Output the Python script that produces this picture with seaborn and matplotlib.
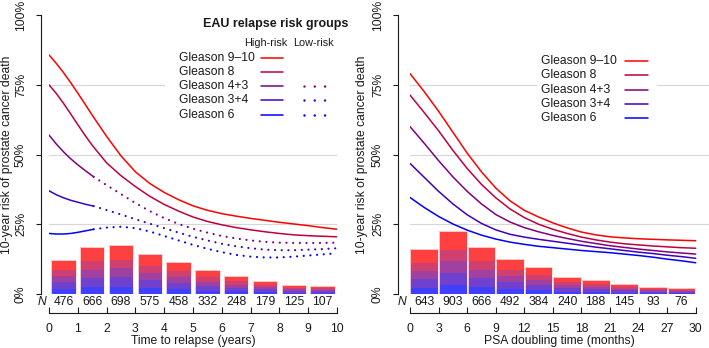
import seaborn as sns
import matplotlib.pyplot as plt
from matplotlib.lines import Line2D
from matplotlib.patches import Rectangle

# ---- data ----
groups = ["Gleason 9\u201310", "Gleason 8", "Gleason 4+3", "Gleason 3+4", "Gleason 6"]
line_colors = ["#FF0000", "#BF0040", "#800080", "#4000BF", "#0000FF"]
bar_colors = ["#FF4040", "#CF4070", "#A040A0", "#7040CF", "#4040FF"]
bar_shares = [0.30, 0.18, 0.18, 0.20, 0.14]  # top (9-10) to bottom (6)

# left panel: time to relapse (years)
relapse_bins = [0.5, 1.5, 2.5, 3.5, 4.5, 5.5, 6.5, 7.5, 8.5, 9.5]
relapse_bar_pct = [12.2, 16.7, 17.6, 14.4, 11.6, 8.6, 6.5, 4.8, 3.3, 2.9]
relapse_n = ["476", "666", "698", "575", "458", "332", "248", "179", "125", "107"]

years_full = [0, 0.25, 0.5, 0.75, 1, 1.25, 1.5, 2, 2.5, 3, 3.5, 4, 4.5, 5,
              5.5, 6, 6.5, 7, 7.5, 8, 8.5, 9, 9.5, 10]
risk_g910 = [85.7, 82.7, 79.4, 75.8, 72.0, 68.1, 64.1, 56.5, 49.5, 43.8, 39.6, 36.4,
             33.8, 31.6, 30.0, 28.8, 27.9, 27.1, 26.4, 25.7, 25.1, 24.5, 23.8, 23.2]
risk_g8 = [75.0, 71.9, 68.4, 64.6, 60.7, 56.9, 53.3, 47.0, 42.4, 38.5, 35.0, 32.1,
           29.7, 27.6, 26.0, 24.8, 23.8, 23.0, 22.3, 21.7, 21.2, 20.9, 20.7, 20.5]

years_high = [0, 0.25, 0.5, 0.75, 1, 1.25, 1.55]
years_low = [1.55, 2, 2.5, 3, 3.5, 4, 4.5, 5, 5.5, 6, 6.5, 7, 7.5, 8, 8.5, 9, 9.5, 10]
risk_g43_high = [57.0, 53.8, 51.0, 48.5, 46.3, 44.3, 42.0]
risk_g43_low = [42.0, 39.0, 35.8, 32.6, 29.7, 27.2, 25.1, 23.4, 22.0, 20.8, 19.9,
                19.2, 18.7, 18.4, 18.3, 18.3, 18.3, 18.4]
risk_g34_high = [37.0, 35.6, 34.5, 33.6, 32.9, 32.2, 31.5]
risk_g34_low = [31.5, 30.1, 28.5, 26.8, 25.2, 23.6, 22.0, 20.5, 19.2, 18.0, 17.1,
                16.4, 15.9, 15.7, 15.7, 15.9, 16.1, 16.4]
risk_g6_high = [21.7, 21.5, 21.5, 21.7, 22.1, 22.6, 23.2]
risk_g6_low = [23.2, 23.8, 24.1, 23.6, 22.4, 20.8, 19.2, 17.6, 16.2, 15.0, 14.0,
               13.4, 13.1, 13.1, 13.4, 13.8, 14.2, 14.6]

# right panel: PSA doubling time (months)
psadt_bins = [1.5, 4.5, 7.5, 10.5, 13.5, 16.5, 19.5, 22.5, 25.5, 28.5]
psadt_bar_pct = [16.1, 22.6, 16.7, 12.4, 9.7, 6.2, 4.9, 3.7, 2.6, 2.2]
psadt_n = ["643", "903", "666", "492", "384", "240", "188", "145", "93", "76"]

months = [0, 1.5, 3, 4.5, 6, 7.5, 9, 10.5, 12, 13.5, 15, 16.5, 18, 19.5, 21,
          22.5, 24, 25.5, 27, 28.5, 30]
psadt_risk = [
    [79.0, 72.5, 65.5, 58.0, 50.5, 43.8, 38.0, 33.4, 30.0, 27.6, 25.5, 23.7, 22.2,
     21.2, 20.5, 20.1, 19.8, 19.6, 19.4, 19.25, 19.1],
    [71.3, 65.0, 58.5, 51.5, 45.0, 39.3, 34.5, 30.5, 27.4, 25.0, 23.2, 21.7, 20.4,
     19.4, 18.6, 18.0, 17.6, 17.2, 16.9, 16.6, 16.4],
    [60.0, 54.0, 47.8, 42.0, 36.8, 32.3, 28.5, 25.8, 23.8, 22.3, 21.0, 19.9, 18.9,
     18.1, 17.3, 16.7, 16.1, 15.6, 15.1, 14.7, 14.3],
    [46.8, 41.8, 36.8, 32.3, 28.4, 25.3, 23.0, 21.4, 20.4, 19.6, 18.9, 18.2, 17.5,
     16.8, 16.2, 15.6, 15.0, 14.5, 13.9, 13.4, 12.8],
    [34.6, 31.0, 27.8, 25.1, 22.9, 21.1, 19.7, 18.6, 17.8, 17.1, 16.6, 16.1, 15.6,
     15.2, 14.8, 14.3, 13.8, 13.2, 12.5, 11.9, 11.2],
]

# ---- style ----
sns.set_style("white")
plt.rcParams["font.family"] = ["Liberation Sans", "DejaVu Sans"]
plt.rcParams["text.color"] = "#1a1a1a"
plt.rcParams["axes.labelcolor"] = "#1a1a1a"
plt.rcParams["xtick.color"] = "#1a1a1a"
plt.rcParams["ytick.color"] = "#1a1a1a"

W, H = 709, 348
FS = 8.7
LW = 1.1
DOTS = dict(linestyle=(0, (0.01, 3.0)), dash_capstyle="round", linewidth=1.6)


def fx(px):
    return px / W


def fy(py):
    return 1 - py / H


fig = plt.figure(figsize=(W / 100, H / 100), dpi=100)
axL = fig.add_axes([fx(49), fy(294), 288 / W, 279 / H])
axR = fig.add_axes([fx(410), fy(294), 299 / W, 279 / H])


def stacked_bars(ax, centers, totals, width):
    bottom = [0.0] * len(totals)
    for share, col in reversed(list(zip(bar_shares, bar_colors))):
        h = [t * share for t in totals]
        ax.bar(centers, h, width=width, bottom=bottom, color=col,
               edgecolor="none", linewidth=0, zorder=2)
        bottom = [b + v for b, v in zip(bottom, h)]
    ax.bar(centers, totals, width=width, facecolor="none", edgecolor="#FFE0E0",
           linewidth=0.6, zorder=2)


def style_axis(ax, xmax, xticks, left_off, xlabel, n_labels, centers, n_x, ylab_x):
    ax.set_ylim(0, 100)
    ax.set_xlim(0, xmax)
    for y in (25, 50, 75):
        ax.axhline(y, color="#D6D6D6", lw=0.8, zorder=0)
    for side in ("top", "right"):
        ax.spines[side].set_visible(False)
    ax.spines["left"].set_position(("outward", left_off * 0.72))
    ax.spines["bottom"].set_position(("outward", 19 * 0.72))
    ax.spines["left"].set_bounds(0, 100)
    ax.spines["bottom"].set_bounds(xticks[0], xticks[-1])
    for side in ("left", "bottom"):
        ax.spines[side].set_color("#1a1a1a")
        ax.spines[side].set_linewidth(0.8)
    ax.set_yticks([0, 25, 50, 75, 100])
    ax.set_yticklabels(["0%", "25%", "50%", "75%", "100%"], rotation=90, va="center",
                       fontsize=FS)
    ax.set_xticks(xticks)
    ax.set_xticklabels([str(t) for t in xticks], fontsize=FS)
    ax.tick_params(axis="y", left=True, length=3.6, width=0.8, pad=6.5)
    ax.tick_params(axis="x", bottom=True, direction="in", length=4.3, width=0.8, pad=7.5)
    ax.set_xlabel(xlabel, fontsize=FS, labelpad=0)
    ax.set_ylabel("10-year risk of prostate cancer death", fontsize=FS)
    ax.yaxis.set_label_coords(ylab_x, 0.5)
    for c, n in zip(centers, n_labels):
        ax.text(c, -2.75, n, ha="center", va="center", fontsize=FS, clip_on=False)
    ax.text(n_x, -2.75, "N", ha="center", va="center", fontsize=FS, style="italic",
            clip_on=False)


# ---- left panel ----
stacked_bars(axL, relapse_bins, relapse_bar_pct, 0.85)
sns.lineplot(x=years_full, y=risk_g910, ax=axL, color=line_colors[0], lw=LW, zorder=3)
sns.lineplot(x=years_full, y=risk_g8, ax=axL, color=line_colors[1], lw=LW, zorder=3)
for xs, ys, col in [(years_high, risk_g43_high, line_colors[2]),
                    (years_high, risk_g34_high, line_colors[3]),
                    (years_high, risk_g6_high, line_colors[4])]:
    sns.lineplot(x=xs, y=ys, ax=axL, color=col, lw=LW, zorder=3)
for xs, ys, col in [(years_low, risk_g43_low, line_colors[2]),
                    (years_low, risk_g34_low, line_colors[3]),
                    (years_low, risk_g6_low, line_colors[4])]:
    sns.lineplot(x=xs, y=ys, ax=axL, color=col, zorder=3, **DOTS)
style_axis(axL, 10, list(range(0, 11)), 8, "Time to relapse (years)",
           relapse_n, relapse_bins, -0.25, (13 - 49) / 288)

# ---- right panel ----
stacked_bars(axR, psadt_bins, psadt_bar_pct, 2.9)
for ys, col in zip(psadt_risk, line_colors):
    sns.lineplot(x=months, y=ys, ax=axR, color=col, lw=LW, zorder=3)
style_axis(axR, 299 / 9.524, list(range(0, 31, 3)), 12, "PSA doubling time (months)",
           psadt_n, psadt_bins, -0.87, (368 - 410) / 299)

# ---- legends (drawn in figure pixel coordinates) ----
fig.add_artist(Rectangle((fx(165), fy(126)), (348 - 165) / W, (126 - 10) / H,
                         transform=fig.transFigure, facecolor="white", edgecolor="none",
                         zorder=1))
fig.text(fx(276), fy(23.5), "EAU relapse risk groups", ha="center", va="center",
         fontsize=9, fontweight="bold")
fig.text(fx(266), fy(43), "High-risk", ha="center", va="center", fontsize=7.8)
fig.text(fx(313), fy(43), "Low-risk", ha="center", va="center", fontsize=7.8)
rows_left = [57.7, 71.9, 86.0, 100.3, 114.8]
for i, (g, col, ry) in enumerate(zip(groups, line_colors, rows_left)):
    fig.text(fx(179), fy(ry), g, ha="left", va="center", fontsize=FS)
    fig.add_artist(Line2D([fx(261), fx(283)], [fy(ry), fy(ry)], transform=fig.transFigure,
                          color=col, lw=LW, zorder=2))
    if i >= 2:
        fig.add_artist(Line2D([fx(304), fx(327)], [fy(ry), fy(ry)],
                              transform=fig.transFigure, color=col, zorder=2,
                              linestyle=(0, (0.01, 4.1)), dash_capstyle="round",
                              linewidth=1.8))

fig.add_artist(Rectangle((fx(537), fy(127)), (657 - 537) / W, (127 - 51) / H,
                         transform=fig.transFigure, facecolor="white", edgecolor="none",
                         zorder=1))
rows_right = [61.0, 75.3, 89.7, 104.0, 118.3]
for g, col, ry in zip(groups, line_colors, rows_right):
    fig.text(fx(541), fy(ry), g, ha="left", va="center", fontsize=FS)
    fig.add_artist(Line2D([fx(625), fx(648)], [fy(ry), fy(ry)], transform=fig.transFigure,
                          color=col, lw=LW, zorder=2))

fig.savefig("out.png", dpi=100)
